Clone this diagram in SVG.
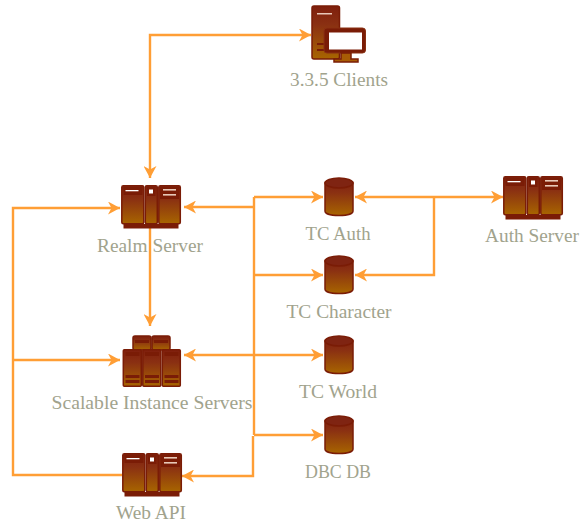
<svg xmlns="http://www.w3.org/2000/svg" width="585" height="530" viewBox="0 0 585 530">
<style>
.c{fill:none;stroke:#ff9e35;stroke-width:2.4}
.l{font-family:"Liberation Serif","DejaVu Serif",serif;font-size:18.500px;fill:#a1a38d;text-anchor:middle}
.b{fill:url(#g);stroke:#7a1c06;stroke-width:1.5}
.d{fill:#7a1c06}
.w{fill:#fff}
.t{fill:#e8c8b8}
</style>
<defs>
<linearGradient id="g" x1="0" y1="0" x2="0" y2="1"><stop offset="0" stop-color="#7f1f0d"/><stop offset="0.35" stop-color="#8a3012"/><stop offset="1" stop-color="#a86500"/></linearGradient>
<marker id="a" viewBox="0 0 13 13" refX="12" refY="6.500" markerWidth="13" markerHeight="13" markerUnits="userSpaceOnUse" orient="auto-start-reverse"><path d="M0 0L12 6.500L0 13L3.500 6.500Z" fill="#ff9e35"/></marker>
<g id="srv">
<rect class="b" x="0.8" y="0.8" width="22" height="38" rx="1.500"/>
<rect class="b" x="24.300" y="0.8" width="12" height="38" rx="1.500"/>
<rect class="b" x="37.800" y="0.8" width="21.500" height="38" rx="1.500"/>
<rect class="d" x="2.500" y="2" width="19" height="8"/><rect class="d" x="39" y="2" width="19" height="12"/>
<rect class="w" x="4.500" y="5" width="13" height="1.300"/>
<rect class="t" x="42" y="4" width="13" height="1.600"/><rect class="t" x="42" y="9" width="13" height="1.600"/>
<rect class="d" x="26" y="2" width="8.500" height="9"/><rect class="w" x="28" y="4.500" width="4" height="4"/>
<rect class="d" x="2.500" y="39" width="55" height="4.500"/>
</g>
<g id="cyl">
<path class="b" d="M1 6C1 2 29 2 29 6V34C29 40 1 40 1 34Z"/>
<ellipse cx="15" cy="6" rx="14" ry="5" fill="#7f2412" stroke="#7a1c06" stroke-width="1.500"/>
</g>
<g id="rack">
<rect class="b" x="0.8" y="0.8" width="18" height="36.500" rx="1"/>
<rect class="d" x="3" y="3" width="14" height="4"/>
<rect class="d" x="3" y="26" width="14" height="3"/><rect class="d" x="3" y="31" width="14" height="3"/>
</g>
</defs>
<g id="connectors">
<path class="c" d="M150 178V35H311" marker-start="url(#a)" marker-end="url(#a)"/>
<path class="c" d="M150 228V326" marker-end="url(#a)"/>
<path class="c" d="M120 208H13V475H122" marker-start="url(#a)"/>
<path class="c" d="M13 360H120" marker-end="url(#a)"/>
<path class="c" d="M184 207H254" marker-start="url(#a)"/>
<path class="c" d="M254 197V435"/>
<path class="c" d="M253 436V476H182" marker-end="url(#a)"/>
<path class="c" d="M254 197H323" marker-end="url(#a)"/>
<path class="c" d="M254 275H323" marker-end="url(#a)"/>
<path class="c" d="M184 355H323" marker-start="url(#a)" marker-end="url(#a)"/>
<path class="c" d="M254 435H323" marker-end="url(#a)"/>
<path class="c" d="M355 197H503" marker-start="url(#a)" marker-end="url(#a)"/>
<path class="c" d="M434 197V275H355" marker-end="url(#a)"/>
</g>
<g id="clients">
<rect class="b" x="312" y="6" width="27.500" height="53" rx="2"/>
<rect class="t" x="317" y="13" width="15" height="1.500"/>
<rect class="d" x="317" y="43" width="9" height="2"/><rect class="d" x="317" y="49" width="9" height="2"/>
<rect x="324" y="28" width="41.500" height="25" rx="3" fill="#7a1c06" stroke="#8a3012" stroke-width="1"/>
<rect class="w" x="329" y="32.500" width="33" height="17"/>
<path d="M341 53V59H334V62H358V59H351V53Z" fill="#a85c05" stroke="#7a1c06" stroke-width="1.500"/>
<text class="l" x="339" y="86" textLength="98" lengthAdjust="spacingAndGlyphs">3.3.5 Clients</text>
</g>
<g id="realm"><use href="#srv" x="121" y="185"/><text class="l" x="150" y="252" textLength="106" lengthAdjust="spacingAndGlyphs">Realm Server</text></g>
<g id="scalable">
<rect class="b" x="133" y="336" width="18" height="14" rx="2"/><rect class="b" x="152" y="336" width="18" height="14" rx="2"/>
<rect class="d" x="135" y="340" width="14" height="3"/><rect class="d" x="154" y="340" width="14" height="3"/>
<use href="#rack" x="122.500" y="349"/><use href="#rack" x="142" y="349"/><use href="#rack" x="161.500" y="349"/>
<text class="l" x="152" y="409" textLength="201" lengthAdjust="spacingAndGlyphs">Scalable Instance Servers</text></g>
<g id="webapi"><use href="#srv" x="122" y="453"/><text class="l" x="151" y="519" textLength="70" lengthAdjust="spacingAndGlyphs">Web API</text></g>
<g id="authsrv"><use href="#srv" x="503" y="176"/><text class="l" x="532" y="242" textLength="94" lengthAdjust="spacingAndGlyphs">Auth Server</text></g>
<g id="tcauth"><use href="#cyl" x="324" y="177"/><text class="l" x="338" y="240" textLength="65" lengthAdjust="spacingAndGlyphs">TC Auth</text></g>
<g id="tcchar"><use href="#cyl" x="324" y="255"/><text class="l" x="339" y="318" textLength="105" lengthAdjust="spacingAndGlyphs">TC Character</text></g>
<g id="tcworld"><use href="#cyl" x="324" y="335"/><text class="l" x="338" y="398" textLength="78" lengthAdjust="spacingAndGlyphs">TC World</text></g>
<g id="dbc"><use href="#cyl" x="324" y="415"/><text class="l" x="338" y="478" textLength="66" lengthAdjust="spacingAndGlyphs">DBC DB</text></g>
</svg>
